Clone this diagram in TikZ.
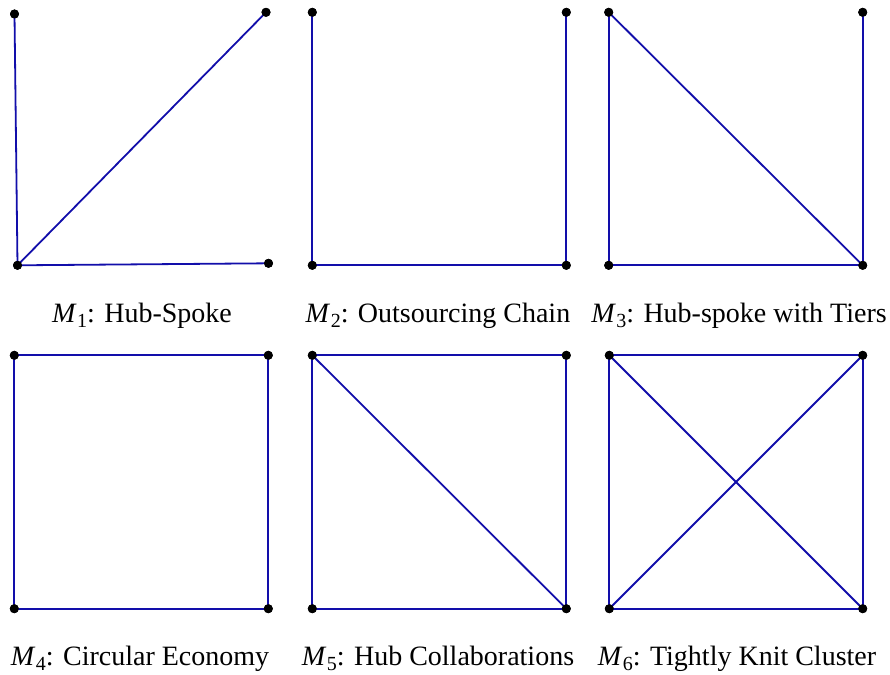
\documentclass[tikz,border=0pt]{standalone}
\usepackage{fontspec}
\setmainfont{Liberation Serif}
\definecolor{edgeblue}{RGB}{18,14,170}
\newcommand{\mlbl}[2]{\textit{M}\kern0.5pt\raisebox{-0.2em}{\fontsize{20}{21}\selectfont #1}: #2}
\begin{document}
\begin{tikzpicture}[x=1pt,y=-1pt,
  vtx/.style={circle,fill=black,inner sep=0pt,minimum size=9pt},
  edge/.style={draw=edgeblue,line width=1.8pt},
  caption/.style={anchor=base,inner sep=0pt,font=\fontsize{28}{32}\selectfont}]
\useasboundingbox (0,0) rectangle (890,674);
% Panel 1
\node[vtx] (a1) at (14.5,14) {};
\node[vtx] (b1) at (266,12.3) {};
\node[vtx] (c1) at (17.5,265.3) {};
\node[vtx] (d1) at (268.5,263.3) {};
\draw[edge] (a1.center) -- (c1.center);
\draw[edge] (c1.center) -- (b1.center);
\draw[edge] (c1.center) -- (d1.center);
% Panel 2
\node[vtx] (a2) at (312.3,12.3) {};
\node[vtx] (b2) at (566.3,12.3) {};
\node[vtx] (c2) at (312.3,265.3) {};
\node[vtx] (d2) at (566.3,265.3) {};
\draw[edge] (a2.center) -- (c2.center);
\draw[edge] (c2.center) -- (d2.center);
\draw[edge] (d2.center) -- (b2.center);
% Panel 3
\node[vtx] (a3) at (608.7,12.3) {};
\node[vtx] (b3) at (862.7,12.3) {};
\node[vtx] (c3) at (608.7,265.3) {};
\node[vtx] (d3) at (862.7,265.3) {};
\draw[edge] (a3.center) -- (c3.center);
\draw[edge] (c3.center) -- (d3.center);
\draw[edge] (d3.center) -- (b3.center);
\draw[edge] (a3.center) -- (d3.center);
% Panel 4
\node[vtx] (a4) at (14.3,355.3) {};
\node[vtx] (b4) at (268.3,355.3) {};
\node[vtx] (c4) at (14.3,608.7) {};
\node[vtx] (d4) at (268.3,608.7) {};
\draw[edge] (a4.center) -- (b4.center) -- (d4.center) -- (c4.center) -- cycle;
% Panel 5
\node[vtx] (a5) at (312.3,355.3) {};
\node[vtx] (b5) at (566.3,355.3) {};
\node[vtx] (c5) at (312.3,608.7) {};
\node[vtx] (d5) at (566.3,608.7) {};
\draw[edge] (a5.center) -- (b5.center) -- (d5.center) -- (c5.center) -- cycle;
\draw[edge] (a5.center) -- (d5.center);
% Panel 6
\node[vtx] (a6) at (609.3,355.3) {};
\node[vtx] (b6) at (862.7,355.3) {};
\node[vtx] (c6) at (609.3,608.7) {};
\node[vtx] (d6) at (862.7,608.7) {};
\draw[edge] (a6.center) -- (b6.center) -- (d6.center) -- (c6.center) -- cycle;
\draw[edge] (a6.center) -- (d6.center);
\draw[edge] (b6.center) -- (c6.center);
% vertices on top
\foreach \n in {a1,b1,c1,d1,a2,b2,c2,d2,a3,b3,c3,d3,a4,b4,c4,d4,a5,b5,c5,d5,a6,b6,c6,d6}
  \fill (\n.center) circle (4.5pt);
% Captions
\node[caption] (l1) at (142,322) {\mlbl{1}{Hub-Spoke}};
\node[caption] (l2) at (438,322) {\mlbl{2}{Outsourcing Chain}};
\node[caption] (l3) at (739,322) {\mlbl{3}{Hub-spoke with Tiers}};
\node[caption] (l4) at (140,665) {\mlbl{4}{Circular Economy}};
\node[caption] (l5) at (438,665) {\mlbl{5}{Hub Collaborations}};
\node[caption] (l6) at (737,665) {\mlbl{6}{Tightly Knit Cluster}};
\end{tikzpicture}
\end{document}
